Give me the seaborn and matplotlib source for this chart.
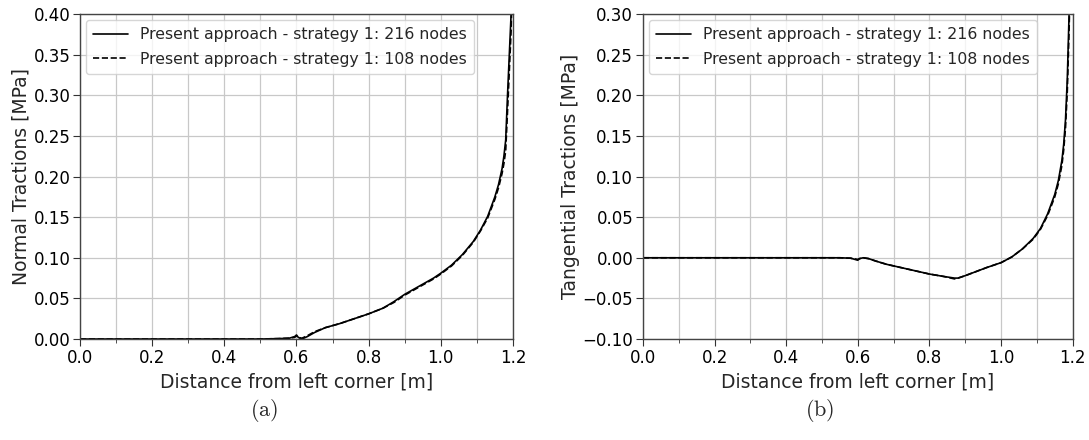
import numpy as np
import pandas as pd
import matplotlib
matplotlib.use("Agg")
import matplotlib.pyplot as plt
import seaborn as sns
from matplotlib.ticker import MultipleLocator, FuncFormatter

# ---------------- data ----------------
normal_x = [0.0, 0.1, 0.2, 0.3, 0.4, 0.5, 0.55, 0.58, 0.595, 0.60, 0.605, 0.615,
            0.63, 0.65, 0.68, 0.72, 0.76, 0.80, 0.84, 0.87, 0.90, 0.94, 0.98,
            1.00, 1.03, 1.06, 1.09, 1.11, 1.13, 1.15, 1.16, 1.17, 1.175, 1.18,
            1.185, 1.19, 1.195, 1.20]
normal_216 = [0, 0, 0, 0, 0, 0, 0.0005, 0.001, 0.003, 0.005, 0.002, 0.0,
              0.003, 0.008, 0.014, 0.019, 0.025, 0.031, 0.038, 0.046, 0.055,
              0.065, 0.075, 0.081, 0.091, 0.104, 0.120, 0.134, 0.151, 0.175,
              0.190, 0.210, 0.225, 0.245, 0.300, 0.350, 0.400, 0.500]
normal_108 = [0, 0, 0, 0, 0, 0, 0.0005, 0.001, 0.002, 0.004, 0.002, 0.001,
              0.004, 0.009, 0.014, 0.019, 0.025, 0.031, 0.038, 0.045, 0.054,
              0.064, 0.074, 0.080, 0.090, 0.103, 0.119, 0.133, 0.149, 0.172,
              0.186, 0.204, 0.216, 0.232, 0.280, 0.330, 0.380, 0.480]

tang_x = [0.0, 0.1, 0.2, 0.3, 0.4, 0.5, 0.55, 0.58, 0.60, 0.605, 0.615, 0.63,
          0.65, 0.68, 0.72, 0.76, 0.80, 0.84, 0.87, 0.88, 0.90, 0.93, 0.96,
          1.00, 1.03, 1.06, 1.09, 1.11, 1.13, 1.15, 1.16, 1.17, 1.175, 1.18,
          1.185, 1.19, 1.195, 1.20]
tang_216 = [0, 0, 0, 0, 0, 0, 0, -0.0005, -0.003, -0.001, 0.0, -0.001,
            -0.004, -0.008, -0.012, -0.016, -0.020, -0.023, -0.025, -0.025,
            -0.022, -0.017, -0.012, -0.006, 0.001, 0.011, 0.024, 0.036, 0.054,
            0.078, 0.095, 0.120, 0.140, 0.170, 0.220, 0.300, 0.400, 0.500]
tang_108 = [0, 0, 0, 0, 0, 0, 0, -0.0005, -0.002, -0.001, 0.0, -0.001,
            -0.004, -0.008, -0.012, -0.016, -0.020, -0.023, -0.026, -0.025,
            -0.022, -0.017, -0.012, -0.006, 0.001, 0.011, 0.023, 0.035, 0.052,
            0.075, 0.091, 0.114, 0.133, 0.160, 0.205, 0.280, 0.380, 0.480]

label_216 = "Present approach - strategy 1: 216 nodes"
label_108 = "Present approach - strategy 1: 108 nodes"
x_label = "Distance from left corner [m]"
y_labels = ["Normal Tractions [MPa]", "Tangential Tractions [MPa]"]
captions = ["(a)", "(b)"]

# ---------------- style ----------------
sns.set_style("ticks")
plt.rcParams["font.family"] = ["DejaVu Sans"]
plt.rcParams["mathtext.fontset"] = "cm"

fig = plt.figure(figsize=(10.89, 4.40), dpi=100)
ax1 = fig.add_axes([0.0735, 0.2295, 0.3975, 0.7385])
ax2 = fig.add_axes([0.5904, 0.2295, 0.3946, 0.7385])

panels = [
    (ax1, normal_x, normal_216, normal_108, (0.0, 0.40), y_labels[0]),
    (ax2, tang_x, tang_216, tang_108, (-0.10, 0.30), y_labels[1]),
]

minus_fmt = FuncFormatter(lambda v, p: ("%.2f" % v).replace("-", "\u2212"))

for ax, xs, y1, y2, ylim, ylab in panels:
    df = pd.DataFrame({
        "x": list(xs) + list(xs),
        "y": list(y1) + list(y2),
        "series": [label_216] * len(xs) + [label_108] * len(xs),
    })
    sns.lineplot(data=df, x="x", y="y", hue="series", style="series",
                 palette=["black", "black"], dashes=[(None, None), (3.7, 1.6)],
                 linewidth=1.2, ax=ax, estimator=None, sort=False)
    ax.set_xlim(0.0, 1.2)
    ax.set_ylim(*ylim)
    ax.xaxis.set_major_locator(MultipleLocator(0.2))
    ax.xaxis.set_minor_locator(MultipleLocator(0.1))
    ax.yaxis.set_major_locator(MultipleLocator(0.05))
    ax.yaxis.set_major_formatter(minus_fmt)
    ax.grid(True, which="both", color="#c8c8c8", linewidth=0.9)
    ax.set_axisbelow(True)
    ax.tick_params(axis="both", which="major", labelsize=12, length=5,
                   color="#333333", labelcolor="black", pad=2)
    ax.tick_params(axis="x", which="minor", length=3, color="#333333")
    ax.set_xlabel(x_label, fontsize=13.5, labelpad=4)
    ax.set_ylabel(ylab, fontsize=13.5, labelpad=2)
    for s in ax.spines.values():
        s.set_color("#444444")
        s.set_linewidth(1.0)
    leg = ax.legend(loc="upper left", fontsize=11.3, frameon=True,
                    handlelength=2.2, borderpad=0.45, labelspacing=0.6,
                    borderaxespad=0.4)
    leg.get_frame().set_edgecolor("#cccccc")
    leg.set_title(None)

fig.text(0.2424, 0.066, r"$\mathrm{(a)}$", ha="center", va="center", fontsize=16)
fig.text(0.753, 0.066, r"$\mathrm{(b)}$", ha="center", va="center", fontsize=16)

fig.savefig("out.png", dpi=100)
